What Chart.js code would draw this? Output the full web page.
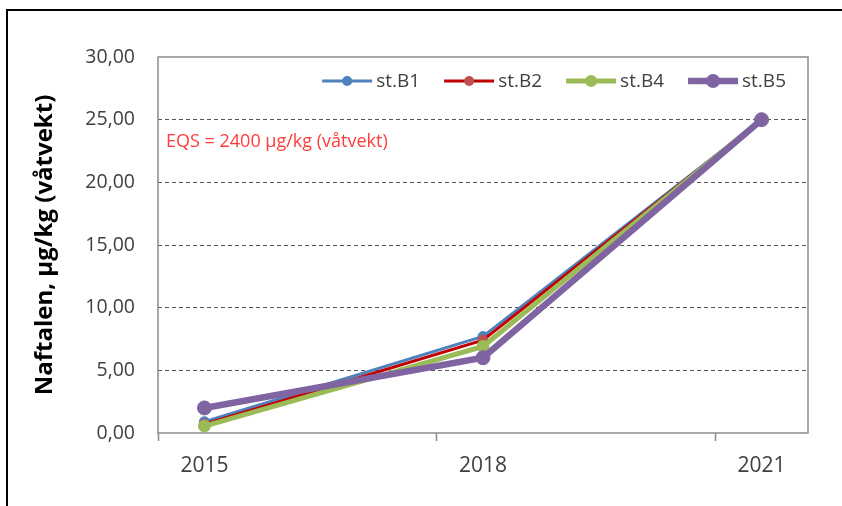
<!DOCTYPE html>
<html>
<head>
<meta charset="utf-8">
<script src="https://cdn.jsdelivr.net/npm/chart.js@4.4.1/dist/chart.umd.min.js"></script>
<style>
  html, body { margin: 0; padding: 0; background: #fff; overflow: hidden; }
  #frame { position: absolute; left: 6px; top: 9px; width: 900px; height: 600px; border: 2px solid #000; box-sizing: border-box; }
  #wrap { position: absolute; left: 0; top: 0; width: 842px; height: 506px; }
</style>
</head>
<body>
<div id="frame"></div>
<div id="wrap"><canvas id="c" width="842" height="506"></canvas></div>
<script>
// Annual slots on the date axis; samples exist only in 2015, 2018, 2021
const years = ['2015', '2016', '2017', '2018', '2019', '2020', '2021'];
const shownYears = ['2015', '2018', '2021'];
const seriesNames = ['st.B1', 'st.B2', 'st.B4', 'st.B5'];
const stB1 = [0.9, null, null, 7.7, null, null, 25.0];
const stB2 = [0.7, null, null, 7.4, null, null, 25.0];
const stB4 = [0.55, null, null, 6.9, null, null, 25.0];
const stB5 = [2.0, null, null, 6.0, null, null, 25.0];
const yTicks = [0, 5, 10, 15, 20, 25, 30];
const yTitle = 'Naftalen, µg/kg (våtvekt)';
const eqsNote = 'EQS = 2400 µg/kg (våtvekt)';

const FONT = "'Open Sans', 'Liberation Sans', sans-serif";

const styles = [
  { line: '#4F81BD', point: '#4F81BD', width: 3, radius: 5 },
  { line: '#C00000', point: '#C0504D', width: 3, radius: 5 },
  { line: '#9BBB59', point: '#9BBB59', width: 5, radius: 6 },
  { line: '#8064A2', point: '#8064A2', width: 6.5, radius: 7 }
];
const allSeries = [stB1, stB2, stB4, stB5];

const datasets = allSeries.map((d, i) => ({
  label: seriesNames[i],
  data: d,
  borderColor: styles[i].line,
  backgroundColor: styles[i].point,
  pointBackgroundColor: styles[i].point,
  pointBorderColor: styles[i].point,
  borderWidth: styles[i].width,
  pointRadius: styles[i].radius,
  pointBorderWidth: 1,
  spanGaps: true,
  tension: 0,
  order: 4 - i
}));

const framePlugin = {
  id: 'frameAndLegend',
  beforeDatasetsDraw(chart) {
    const { ctx, chartArea: a } = chart;
    ctx.save();
    ctx.strokeStyle = '#8c8c8c';
    ctx.lineWidth = 1.5;
    ctx.strokeRect(a.left, a.top, a.right - a.left, a.bottom - a.top);
    // EQS note
    ctx.fillStyle = '#FF3B3B';
    ctx.font = '18px ' + FONT;
    ctx.textBaseline = 'middle';
    ctx.textAlign = 'left';
    ctx.fillText(eqsNote, a.left + 8, chart.scales.y.getPixelForValue(23.2));
    ctx.restore();
  },
  afterDatasetsDraw(chart) {
    const { ctx, chartArea: a } = chart;
    ctx.save();
    ctx.font = '19px ' + FONT;
    ctx.textBaseline = 'middle';
    ctx.textAlign = 'left';
    const lineLen = 50, gapText = 4, gapItem = 24;
    const widths = seriesNames.map(n => ctx.measureText(n).width);
    let total = 0;
    widths.forEach((w, i) => { total += lineLen + gapText + w + (i < widths.length - 1 ? gapItem : 0); });
    let x = a.right - 22 - total;
    const y = a.top + 24;
    seriesNames.forEach((n, i) => {
      const s = styles[i];
      ctx.strokeStyle = s.line;
      ctx.lineWidth = s.width;
      ctx.beginPath();
      ctx.moveTo(x, y);
      ctx.lineTo(x + lineLen, y);
      ctx.stroke();
      ctx.fillStyle = s.point;
      ctx.beginPath();
      ctx.arc(x + lineLen / 2, y, s.radius, 0, Math.PI * 2);
      ctx.fill();
      ctx.fillStyle = '#404040';
      ctx.fillText(n, x + lineLen + gapText, y + 1);
      x += lineLen + gapText + widths[i] + gapItem;
    });
    ctx.restore();
  }
};

new Chart(document.getElementById('c'), {
  type: 'line',
  data: { labels: years, datasets },
  options: {
    responsive: false,
    animation: false,
    devicePixelRatio: 1,
    layout: { padding: { left: 0, right: 34, top: 57, bottom: 0 } },
    plugins: { legend: { display: false }, tooltip: { enabled: false } },
    scales: {
      x: {
        type: 'category',
        offset: true,
        afterFit(scale) { scale.height = 73; },
        grid: {
          offset: true,
          drawOnChartArea: false,
          drawTicks: true,
          tickLength: 8,
          tickWidth: 1.5,
          tickColor: (ctx) => (ctx.index % 3 === 0 ? '#8c8c8c' : 'rgba(0,0,0,0)')
        },
        border: { display: false },
        ticks: {
          autoSkip: false,
          maxRotation: 0,
          padding: 12,
          color: '#404040',
          font: { family: FONT, size: 21 },
          callback(v, i) { const l = years[i]; return shownYears.includes(l) ? l : ''; }
        }
      },
      y: {
        min: yTicks[0],
        max: yTicks[yTicks.length - 1],
        afterFit(scale) { scale.width = 158; },
        afterBuildTicks(scale) { scale.ticks = yTicks.map(v => ({ value: v })); },
        grid: {
          drawTicks: false,
          lineWidth: 1,
          color: (ctx) => (ctx.tick && ctx.tick.value > 0 && ctx.tick.value < 30 ? '#555555' : 'rgba(0,0,0,0)')
        },
        border: { display: false, dash: [4, 3] },
        ticks: {
          padding: 23,
          color: '#404040',
          font: { family: FONT, size: 19.5 },
          callback(v) { return v.toFixed(2).replace('.', ','); }
        },
        title: {
          display: true,
          text: yTitle,
          color: '#000',
          font: { family: FONT, size: 24, weight: 'bold' },
          padding: { top: 31, bottom: 0 }
        }
      }
    }
  },
  plugins: [framePlugin]
});
</script>
</body>
</html>
